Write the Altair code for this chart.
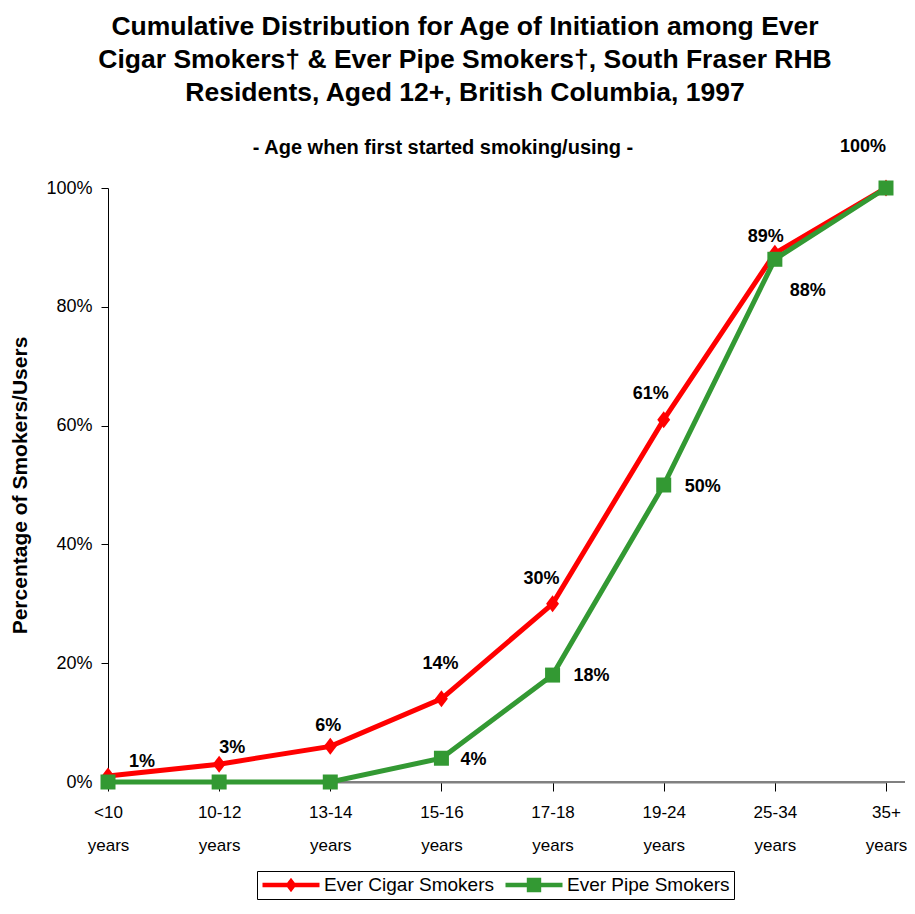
import altair as alt
import pandas as pd

categories = ["<10 years", "10-12 years", "13-14 years", "15-16 years",
              "17-18 years", "19-24 years", "25-34 years", "35+ years"]
cigar = [1, 3, 6, 14, 30, 61, 89, 100]
pipe = [0, 0, 0, 4, 18, 50, 88, 100]
series = ["Ever Cigar Smokers", "Ever Pipe Smokers"]
y_ticks = [0, 20, 40, 60, 80, 100]

title_lines = ["Cumulative Distribution for Age of Initiation among Ever",
               "Cigar Smokers\u2020 & Ever Pipe Smokers\u2020, South Fraser RHB",
               "Residents, Aged 12+, British Columbia, 1997"]
subtitle = "- Age when first started smoking/using -"
y_title = "Percentage of Smokers/Users"

RED = "#FF0000"
GREEN = "#339933"
FONT = "Liberation Sans"

# label placement (style): category index -> (dx, dy)
cigar_label_offsets = {0: (34, -14), 1: (13, -16), 2: (-2, -20), 3: (-1, -35),
                       4: (-11, -25), 5: (-13, -26), 6: (-9, -16), 7: (-23, -41)}
pipe_label_offsets = {3: (32, 2), 4: (39, 1), 5: (39, 2), 6: (33, 32)}

W, H = 778, 594

df = pd.DataFrame({
    "cat": categories * 2,
    "series": [series[0]] * len(categories) + [series[1]] * len(categories),
    "value": cigar + pipe,
})
df["label"] = df["value"].astype(str) + "%"

x_enc = alt.X("cat:N", sort=categories,
              scale=alt.Scale(type="point", padding=0),
              axis=alt.Axis(title=None, labelAngle=0,
                            labelExpr="split(datum.label, ' ')",
                            labelFont=FONT, labelFontSize=17, labelColor="black",
                            labelLineHeight=33, labelPadding=13,
                            labelBaseline="top",
                            domainColor="#808080", domainWidth=2,
                            tickColor="black", tickSize=9, tickWidth=1))
y_enc = alt.Y("value:Q", scale=alt.Scale(domain=[0, 100], nice=False),
              axis=alt.Axis(values=y_ticks, labelExpr="datum.value + '%'",
                            title=y_title, titleFont=FONT, titleFontSize=21,
                            titleFontWeight="bold", titleColor="black",
                            titlePadding=15,
                            labelFont=FONT, labelFontSize=18, labelColor="black",
                            labelPadding=9, grid=False,
                            domainColor="black", domainWidth=1,
                            tickColor="black", tickSize=7, tickWidth=1))

base = alt.Chart(df)

baseline = alt.Chart(pd.DataFrame({"v": [0]})).mark_rule(
    color="#808080", strokeWidth=2).encode(
    x=alt.value(0), x2=alt.value(W + 19), y=alt.datum(0))

layers = [baseline]
diamond = "M0,-1L0.76,0L0,1L-0.76,0Z"
for name, color, shape, size in [(series[0], RED, diamond, 289),
                                 (series[1], GREEN, "square", 225)]:
    sub = base.transform_filter(alt.datum.series == name)
    layers.append(sub.mark_line(color=color, strokeWidth=5).encode(x=x_enc, y=y_enc))
    layers.append(sub.mark_point(shape=shape, size=size, filled=True, opacity=1,
                                 color=color).encode(x=x_enc, y=y_enc))

for name, offsets in [(series[0], cigar_label_offsets), (series[1], pipe_label_offsets)]:
    for idx, (dx, dy) in offsets.items():
        layers.append(
            base.transform_filter(
                (alt.datum.series == name) & (alt.datum.cat == categories[idx])
            ).mark_text(dx=dx, dy=dy, font=FONT, fontSize=18, fontWeight="bold",
                        color="black", align="center", baseline="middle").encode(
                x=x_enc, y=y_enc, text="label:N")
        )

sub_layer = alt.Chart(pd.DataFrame({"t": [subtitle]})).mark_text(
    font=FONT, fontSize=20, fontWeight="bold", color="black",
    align="center", baseline="middle").encode(
    x=alt.value(335), y=alt.value(-40), text="t:N")
layers.append(sub_layer)

path_red = ("M-2.85,-0.22L-0.38,-0.22L0,-0.72L0.38,-0.22L2.85,-0.22L2.85,0.22"
            "L0.38,0.22L0,0.72L-0.38,0.22L-2.85,0.22Z")
path_green = ("M-2.85,-0.22L-0.72,-0.22L-0.72,-0.72L0.72,-0.72L0.72,-0.22L2.85,-0.22"
              "L2.85,0.22L0.72,0.22L0.72,0.72L-0.72,0.72L-0.72,0.22L-2.85,0.22Z")
leg = alt.Legend(title=None, orient="none", legendX=149, legendY=683,
                 direction="horizontal", strokeColor="black", padding=4,
                 symbolSize=400, symbolOffset=20, labelOffset=23,
                 labelFont=FONT, labelFontSize=19, labelColor="black",
                 labelLimit=400, columnPadding=10, symbolStrokeWidth=0)
legend_layer = base.transform_filter("false").mark_point(
    filled=True, opacity=1, size=400).encode(
    x=x_enc, y=y_enc,
    color=alt.Color("series:N", scale=alt.Scale(domain=series, range=[RED, GREEN]), legend=leg),
    shape=alt.Shape("series:N", scale=alt.Scale(domain=series, range=[path_red, path_green]), legend=leg),
)
layers.append(legend_layer)

chart = alt.layer(*layers).properties(
    width=W, height=H,
    padding={"left": 1, "top": 5, "right": 0, "bottom": 0},
    title=alt.TitleParams(text=title_lines, font=FONT, fontSize=26.5, fontWeight="bold",
                          color="black", lineHeight=33, anchor="middle", dx=-32,
                          offset=32),
).configure_view(stroke=None)

chart.save("out.html", embed_options={"renderer": "svg", "actions": False})
